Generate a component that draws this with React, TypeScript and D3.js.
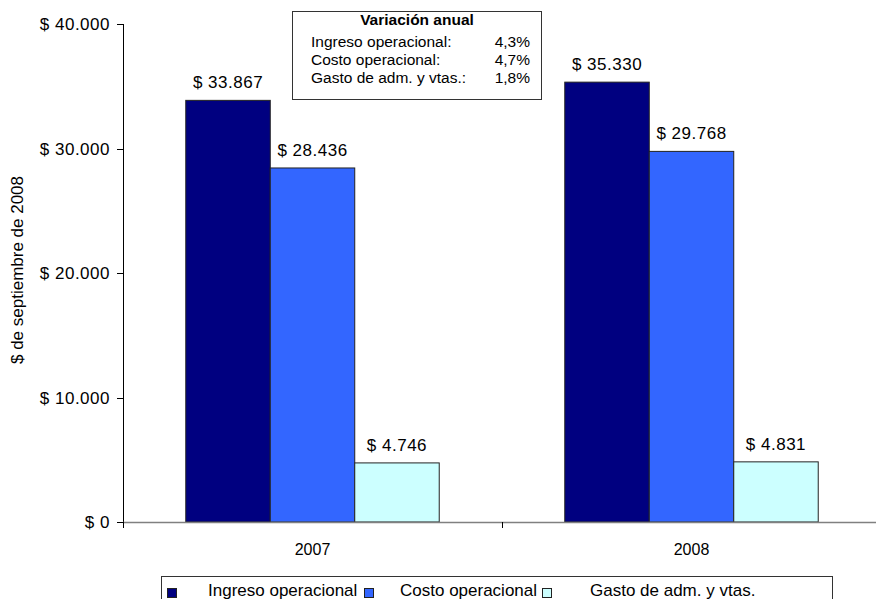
import React from "react";
import * as d3 from "d3";

const categories = ["2007", "2008"];
const seriesNames = ["Ingreso operacional", "Costo operacional", "Gasto de adm. y vtas."];
const ingreso = [33867, 35330];
const costo = [28436, 29768];
const gasto = [4746, 4831];
const yTicks = [0, 10000, 20000, 30000, 40000];
const colors = ["#000080", "#3366FF", "#CCFFFF"];
const annotTitle = "Variación anual";
const annotLabels = ["Ingreso operacional:", "Costo operacional:", "Gasto de adm. y vtas.:"];
const annotValues = ["4,3%", "4,7%", "1,8%"];
const yTitle = "$ de septiembre de 2008";

const W = 876;
const H = 599;
const FONT = "'Liberation Sans', Arial, sans-serif";

const fmt = (v: number) => "$ " + d3.format(",")(v).replace(/,/g, ".");

export default function App() {
  const values = [ingreso, costo, gasto];
  const x0 = d3.scaleBand<string>().domain(categories).range([123, 881]).paddingInner(0).paddingOuter(0);
  const x1 = d3.scaleBand<string>().domain(seriesNames).range([0, x0.bandwidth()]).paddingInner(0).paddingOuter(0.743);
  const y = d3.scaleLinear().domain([0, 40000]).range([522, 24]);

  const legendItems = [
    { sq: 167, tx: 208 },
    { sq: 364, tx: 400 },
    { sq: 542, tx: 590 },
  ];

  return (
    <svg width={W} height={H} style={{ position: "absolute", left: 0, top: 0 }} fontFamily={FONT}>
      <rect x={0} y={0} width={W} height={H} fill="#fff" />
      {/* bars */}
      {categories.map((c, ci) =>
        seriesNames.map((s, si) => {
          const v = values[si][ci];
          const bx = (x0(c) as number) + (x1(s) as number);
          const bw = x1.bandwidth();
          return (
            <g key={c + s}>
              <rect x={bx} y={y(v)} width={bw} height={y(0) - y(v)} fill={colors[si]} stroke="#222" strokeWidth={1} />
              <text x={bx + bw / 2} y={y(v) - 12} textAnchor="middle" fontSize={17} letterSpacing={0.5} fill="#000">
                {fmt(v)}
              </text>
            </g>
          );
        })
      )}
      {/* y axis */}
      <line x1={123.5} x2={123.5} y1={y(40000)} y2={y(0)} stroke="#000" strokeWidth={1} />
      {yTicks.map((t) => (
        <g key={t}>
          <line x1={117} x2={123} y1={Math.round(y(t)) + 0.5} y2={Math.round(y(t)) + 0.5} stroke="#000" />
          <text x={110} y={y(t) + 6} textAnchor="end" fontSize={17} letterSpacing={0.5} fill="#000">
            {fmt(t)}
          </text>
        </g>
      ))}
      <text transform={`translate(23,${270}) rotate(-90)`} textAnchor="middle" fontSize={17} fill="#000">
        {yTitle}
      </text>
      {/* x axis */}
      <line x1={123} x2={881} y1={522.5} y2={522.5} stroke="#808080" strokeWidth={1.5} />
      {[...categories.map((c) => x0(c) as number), 881].map((p, i) => (
        <line key={i} x1={Math.round(p) + 0.5} x2={Math.round(p) + 0.5} y1={522} y2={528} stroke="#000" />
      ))}
      {categories.map((c) => (
        <text key={c} x={(x0(c) as number) + x0.bandwidth() / 2} y={555} textAnchor="middle" fontSize={16} fill="#000">
          {c}
        </text>
      ))}
      {/* annotation box */}
      <rect x={292.5} y={11.5} width={249} height={88} fill="#fff" stroke="#333" strokeWidth={1} />
      <text x={417} y={25} textAnchor="middle" fontSize={15.5} fontWeight="bold" fill="#000">
        {annotTitle}
      </text>
      {annotLabels.map((l, i) => (
        <g key={l}>
          <text x={311} y={47 + i * 18} fontSize={15.5} fill="#000">
            {l}
          </text>
          <text x={530} y={47 + i * 18} textAnchor="end" fontSize={15.5} fill="#000">
            {annotValues[i]}
          </text>
        </g>
      ))}
      {/* legend */}
      <rect x={161.5} y={576.5} width={671} height={40} fill="#fff" stroke="#333" strokeWidth={1} />
      {seriesNames.map((s, i) => (
        <g key={s}>
          <rect x={legendItems[i].sq + 0.5} y={588.5} width={9} height={9} fill={colors[i]} stroke="#222" />
          <text x={legendItems[i].tx} y={596} fontSize={17} fill="#000">
            {s}
          </text>
        </g>
      ))}
    </svg>
  );
}
